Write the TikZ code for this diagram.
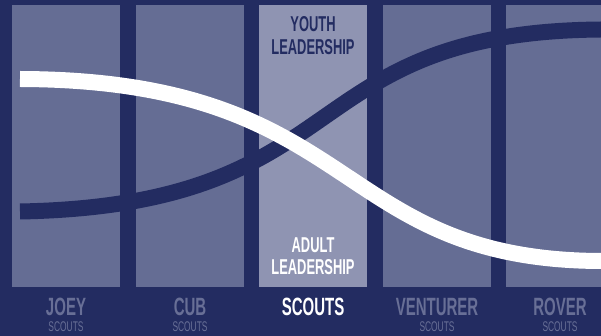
\documentclass[tikz,border=0pt]{standalone}
\usepackage{fontspec}
\newfontfamily\condensed[FakeStretch=0.6]{Liberation Sans}
\definecolor{navy}{HTML}{232C61}
\definecolor{panel}{HTML}{656D94}
\definecolor{panelhi}{HTML}{8F94B2}
\definecolor{fadetext}{HTML}{686F96}
\begin{document}
\begin{tikzpicture}[x=1pt,y=-1pt,
  panelbox/.style={fill=panel},
  activebox/.style={fill=panelhi},
  bigtag/.style={inner sep=0pt, anchor=base, text=fadetext,
    font=\condensed\bfseries\fontsize{25}{25}\selectfont},
  smalltag/.style={inner sep=0pt, anchor=base, text=fadetext,
    font=\condensed\fontsize{14}{14}\selectfont},
  headtag/.style={inner sep=0pt, anchor=base,
    font=\condensed\bfseries\fontsize{21.5}{21.5}\selectfont},
  band/.style={line width=16pt, line cap=butt}]
\useasboundingbox (0,0) rectangle (601,336);
\fill[navy] (0,0) rectangle (601,336);
\clip (0,0) rectangle (601,336);

% stage columns
\fill[panelbox]  (12,5)  rectangle (120,287);
\fill[panelbox]  (136,5) rectangle (244,287);
\fill[activebox] (259,5) rectangle (367,287);
\fill[panelbox]  (383,5) rectangle (491,287);
\fill[panelbox]  (506,5) rectangle (620,287);

% youth leadership rises, adult leadership falls
\draw[band, navy]  (20,211.5) .. controls (360,205) and (290,32) .. (601,29.5);
\draw[band, white] (20,79) .. controls (362,80) and (330,260) .. (601,261);

% labels inside the active column
\node[headtag, text=navy] (youth1) at (313,32) {YOUTH};
\node[headtag, text=navy] (youth2) at (313,55) {LEADERSHIP};
\node[headtag, text=white] (adult1) at (313,252) {ADULT};
\node[headtag, text=white] (adult2) at (313,274) {LEADERSHIP};

% section names
\node[bigtag] (joey) at (66,315) {JOEY};
\node[smalltag] (joeys) at (66,331) {SCOUTS};
\node[bigtag] (cub) at (190,315) {CUB};
\node[smalltag] (cubs) at (190,331) {SCOUTS};
\node[bigtag, text=white] (scouts) at (313,315) {SCOUTS};
\node[bigtag] (venturer) at (437,315) {VENTURER};
\node[smalltag] (venturers) at (437,331) {SCOUTS};
\node[bigtag] (rover) at (560,315) {ROVER};
\node[smalltag] (rovers) at (560,331) {SCOUTS};
\end{tikzpicture}
\end{document}
